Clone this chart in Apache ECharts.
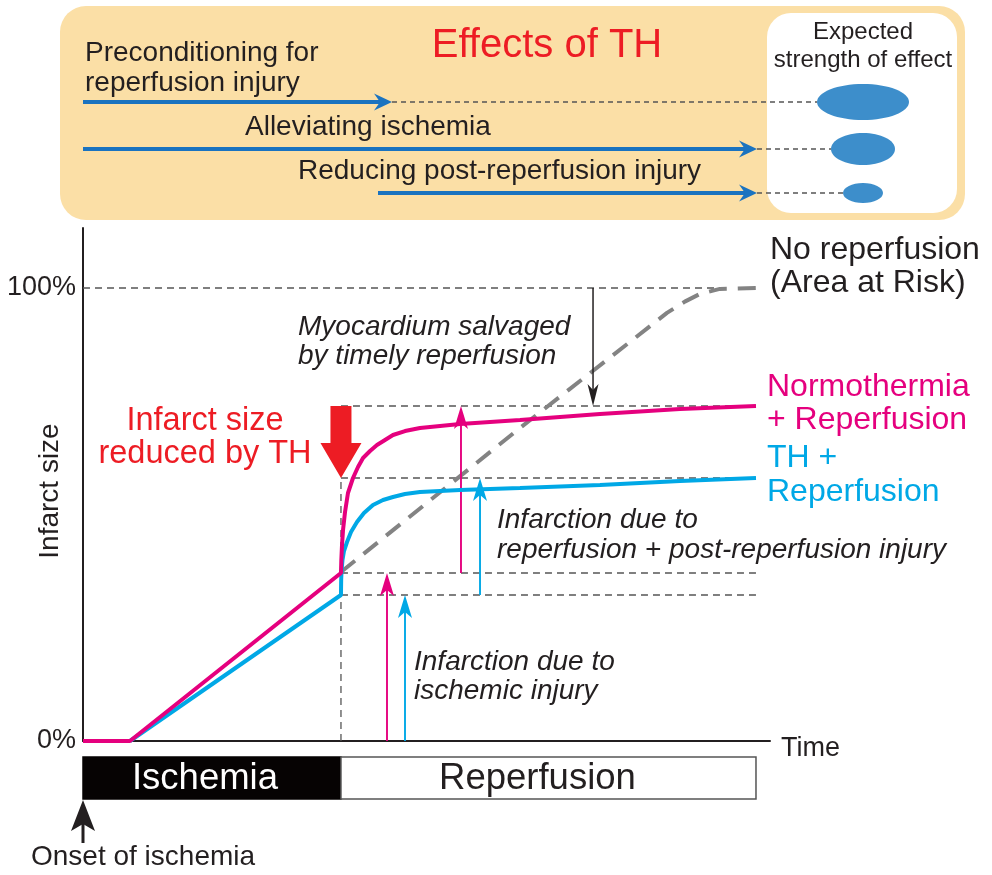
<!DOCTYPE html>
<html>
<head>
<meta charset="utf-8">
<script src="https://cdn.jsdelivr.net/npm/echarts@6/dist/echarts.min.js"></script>
<style>html,body{margin:0;padding:0;background:#fff}#c{width:992px;height:875px}</style>
</head>
<body>
<div id="c"></div>
<script>
// ---------- data (time units 0..100, infarct size in % of area at risk) ----------
const normoReperfusion = [[0,0],[6.84,0],[37.55,37.09],[37.60,39.96],[37.70,43.27],[37.85,46.58],[38.14,50.55],[38.57,54.75],[39.30,58.06],[40.03,60.49],[40.76,62.47],[41.78,64.02],[42.79,65.34],[43.96,66.45],[45.12,67.55],[46.87,68.43],[49.05,69.09],[51.97,69.54],[54.88,69.98],[63.61,70.86],[75.25,72.19],[86.90,73.29],[97.96,73.95]];
const thReperfusion = [[6.84,0],[37.55,32.23],[37.58,35.54],[37.64,37.75],[37.77,39.96],[37.99,41.94],[38.43,43.93],[39.01,46.14],[39.88,48.34],[40.90,50.33],[42.21,52.10],[43.67,53.20],[45.12,53.86],[46.87,54.53],[49.05,54.97],[51.97,55.19],[54.88,55.41],[63.61,55.85],[75.25,56.51],[86.90,57.40],[97.96,58.06]];
const noReperfusion = [[37.55,37.3],[63.6,69.1],[85.0,94.5],[87.6,97.0],[89.8,98.7],[92.7,99.8],[98.5,100]];
const tReperfusion = 37.55, tEnd = 97.96;
const yNormoAtRep = 37.09, yThAtRep = 32.23, yNormoEnd = 73.95, yThEnd = 58.06;
const yTickLabels = {0:'0%', 100:'100%'};
const phases = [[0, tReperfusion, 'Ischemia'], [tReperfusion, tEnd, 'Reperfusion']];
// vertical annotation arrows: [x, from, to]
const salvageArrow = [74.24, 100, yNormoEnd];
const reperfInjuryArrows = [[55.02, yNormoAtRep, yNormoEnd], [57.79, yThAtRep, yThEnd]];
const ischemicArrows = [[44.25, 0, yNormoAtRep], [46.87, 0, yThAtRep]];
const thReduction = [[tReperfusion, yNormoEnd, yThEnd]];
const effects = ['Preconditioning for\nreperfusion injury', 'Alleviating ischemia', 'Reducing post-reperfusion injury'];
const effectStrength = [3, 2, 1];

// ---------- styles ----------
const MAG = '#E5007E', CYA = '#00A8E6', RED = '#ED1C24', INK = '#231F20', BLUE = '#1A73C0', ELL = '#3D8ECB';
const FF = '"Liberation Sans", Arial, sans-serif';
const dashStyle = {color:'#555', width:1.3, type:[7,5]};

function seg(x0,y0,x1,y1){ return {type:'line', data:[[x0,y0],[x1,y1]], showSymbol:false, silent:true, z:1, lineStyle:dashStyle}; }

function arrowRender(opts){
  return function(params, api){
    const x = api.value(0), a = api.value(1), b = api.value(2);
    const p0 = api.coord([x,a]), p1 = api.coord([x,b]);
    const d = p1[1] > p0[1] ? 1 : -1;
    const color = api.visual('color');
    const L = opts.L, W = opts.W, N = opts.N;
    return {type:'group', children:[
      {type:'line', shape:{x1:p0[0], y1:p0[1], x2:p1[0], y2:p1[1]-d*N}, style:{stroke:color, lineWidth:opts.lw}},
      {type:'polygon', shape:{points:[[p1[0],p1[1]],[p1[0]+W/2,p1[1]-d*L],[p1[0],p1[1]-d*N],[p1[0]-W/2,p1[1]-d*L]]}, style:{fill:color}}
    ]};
  };
}

const chart = echarts.init(document.getElementById('c'), null, {renderer:'canvas'});

// ---------- top panel (graphic) ----------
const topGraphic = [];
topGraphic.push({type:'rect', shape:{x:60, y:6, width:905, height:214, r:26}, style:{fill:'#FBDFA6'}, z:0});
topGraphic.push({type:'rect', shape:{x:767, y:13, width:190, height:200, r:24}, style:{fill:'#fff'}, z:1});
topGraphic.push({type:'text', style:{text:'Effects of TH', x:547, y:46, fill:RED, fontSize:40, fontFamily:FF, textAlign:'center', textVerticalAlign:'middle'}, z:2});
topGraphic.push({type:'text', style:{text:'Expected\nstrength of effect', x:863, y:46, fill:INK, fontSize:24, lineHeight:28, fontFamily:FF, textAlign:'center', textVerticalAlign:'middle'}, z:2});
const rows = [
  {y:102, x0:83, x1:392, tx:85, ty:68, align:'left'},
  {y:149, x0:83, x1:757, tx:245, ty:127, align:'left'},
  {y:193, x0:378, x1:757, tx:298, ty:171, align:'left'}
];
const ellSize = {3:[46,18], 2:[32,16], 1:[20,10]};
rows.forEach((r,i)=>{
  const es = ellSize[effectStrength[i]];
  topGraphic.push({type:'text', style:{text:effects[i], x:r.tx, y:r.ty, fill:INK, fontSize:28, lineHeight:30, fontFamily:FF, textAlign:r.align, textVerticalAlign:'middle'}, z:2});
  topGraphic.push({type:'line', shape:{x1:r.x1, y1:r.y, x2:863-es[0], y2:r.y}, style:{stroke:'#555', lineWidth:1.4, lineDash:[5,4]}, z:2});
  topGraphic.push({type:'line', shape:{x1:r.x0, y1:r.y, x2:r.x1-8, y2:r.y}, style:{stroke:BLUE, lineWidth:4}, z:3});
  topGraphic.push({type:'polygon', shape:{points:[[r.x1,r.y],[r.x1-18,r.y-8.5],[r.x1-12,r.y],[r.x1-18,r.y+8.5]]}, style:{fill:BLUE}, z:3});
  topGraphic.push({type:'ellipse', shape:{cx:863, cy:r.y, rx:es[0], ry:es[1]}, style:{fill:ELL}, z:3});
});

// ---------- chart texts ----------
function txt(text, x, y, o){
  return {type:'text', z:10, style:Object.assign({text, x, y, fill:INK, fontSize:28, fontFamily:FF, textAlign:'left', textVerticalAlign:'middle'}, o||{})};
}
const yTitle = txt('Infarct size', 0, 0, {textAlign:'center'});
yTitle.x = 50; yTitle.y = 491; yTitle.rotation = Math.PI/2;
const chartGraphic = [
  yTitle,
  txt('Time', 781, 749, {fontSize:27}),
  txt('No reperfusion\n(Area at Risk)', 770, 267, {fontSize:32, lineHeight:33}),
  txt('Normothermia\n+ Reperfusion', 767, 404, {fontSize:32, lineHeight:33, fill:MAG}),
  txt('TH +\nReperfusion', 767, 475, {fontSize:32, lineHeight:34, fill:CYA}),
  txt('Infarct size\nreduced by TH', 205, 438, {fontSize:32.5, lineHeight:33, fill:RED, textAlign:'center'}),
  txt('Myocardium salvaged\nby timely reperfusion', 298, 342, {fontStyle:'italic', lineHeight:29}),
  txt('Infarction due to\nreperfusion + post-reperfusion injury', 497, 535, {fontStyle:'italic', lineHeight:30}),
  txt('Infarction due to\nischemic injury', 414, 677, {fontStyle:'italic', lineHeight:29}),
  txt('Onset of ischemia', 31, 857),
  {type:'line', z:10, shape:{x1:83, y1:843, x2:83, y2:822}, style:{stroke:INK, lineWidth:3}},
  {type:'polygon', z:10, shape:{points:[[83,800],[95,831],[83,824],[71,831]]}, style:{fill:INK}}
];

const option = {
  animation:false,
  backgroundColor:'#fff',
  grid:{left:83, right:222, top:228, bottom:134, containLabel:false},
  xAxis:{type:'value', min:0, max:100, axisLine:{show:true, lineStyle:{color:INK, width:2}}, axisTick:{show:false}, axisLabel:{show:false}, splitLine:{show:false}},
  yAxis:{type:'value', min:0, max:113.25, interval:100,
    axisLine:{show:true, lineStyle:{color:INK, width:2}}, axisTick:{show:false}, splitLine:{show:false},
    axisLabel:{fontSize:27, color:INK, fontFamily:FF, margin:7, formatter:v=> yTickLabels[v] || ''}},
  graphic: topGraphic.concat(chartGraphic),
  series:[
    seg(0,100, 92.7,100),
    seg(tReperfusion, yNormoEnd, tEnd, yNormoEnd),
    seg(tReperfusion, yThEnd, tEnd, yThEnd),
    seg(tReperfusion, yNormoAtRep, tEnd, yNormoAtRep),
    seg(tReperfusion, yThAtRep, tEnd, yThAtRep),
    seg(tReperfusion, 0, tReperfusion, yThEnd),
    {type:'line', name:'No reperfusion', data:noReperfusion, showSymbol:false, z:2, lineStyle:{color:'#838383', width:4, type:[18,11]}},
    {type:'custom', z:4, renderItem:arrowRender({L:23, W:14, N:17, lw:1.9}), data:reperfInjuryArrows.concat(ischemicArrows).map((v,i)=>({value:v, itemStyle:{color: i%2===0 ? MAG : CYA}})), encode:{x:0, y:[1,2]}},
    {type:'custom', z:4, renderItem:arrowRender({L:22, W:11, N:16, lw:1.5}), data:[{value:salvageArrow, itemStyle:{color:INK}}], encode:{x:0, y:[1,2]}},
    {type:'line', name:'TH + Reperfusion', data:thReperfusion, showSymbol:false, z:5, lineStyle:{color:CYA, width:4}},
    {type:'line', name:'Normothermia + Reperfusion', data:normoReperfusion, showSymbol:false, z:6, lineStyle:{color:MAG, width:4}},
    {type:'custom', z:7, data:thReduction, encode:{x:0, y:[1,2]}, renderItem:function(params, api){
      const x = api.value(0);
      const top = api.coord([x, api.value(1)]), tip = api.coord([x, api.value(2)]);
      const cx = top[0], sw = 10.5, hw = 20.5, hl = 35;
      return {type:'polygon', shape:{points:[[cx-sw,top[1]],[cx+sw,top[1]],[cx+sw,tip[1]-hl],[cx+hw,tip[1]-hl],[cx,tip[1]],[cx-hw,tip[1]-hl],[cx-sw,tip[1]-hl]]}, style:{fill:RED}};
    }},
    {type:'custom', z:3, data:phases, encode:{x:[0,1]}, renderItem:function(params, api){
      const a = api.coord([api.value(0), 0]), b = api.coord([api.value(1), 0]);
      const dark = params.dataIndex === 0;
      const y = a[1] + 16, h = 42;
      return {type:'group', children:[
        {type:'rect', shape:{x:a[0], y:y, width:b[0]-a[0], height:h}, style:{fill: dark ? '#060303' : '#fff', stroke: dark ? '#060303' : '#555', lineWidth:1.5}},
        {type:'text', style:{text: phases[params.dataIndex][2], x:(a[0]+b[0])/2 + (dark?-7:-11), y:y+h/2+1, fill: dark ? '#fff' : INK, fontSize:36.5, fontFamily:FF, textAlign:'center', textVerticalAlign:'middle'}}
      ]};
    }}
  ]
};
chart.setOption(option);
</script>
</body>
</html>
